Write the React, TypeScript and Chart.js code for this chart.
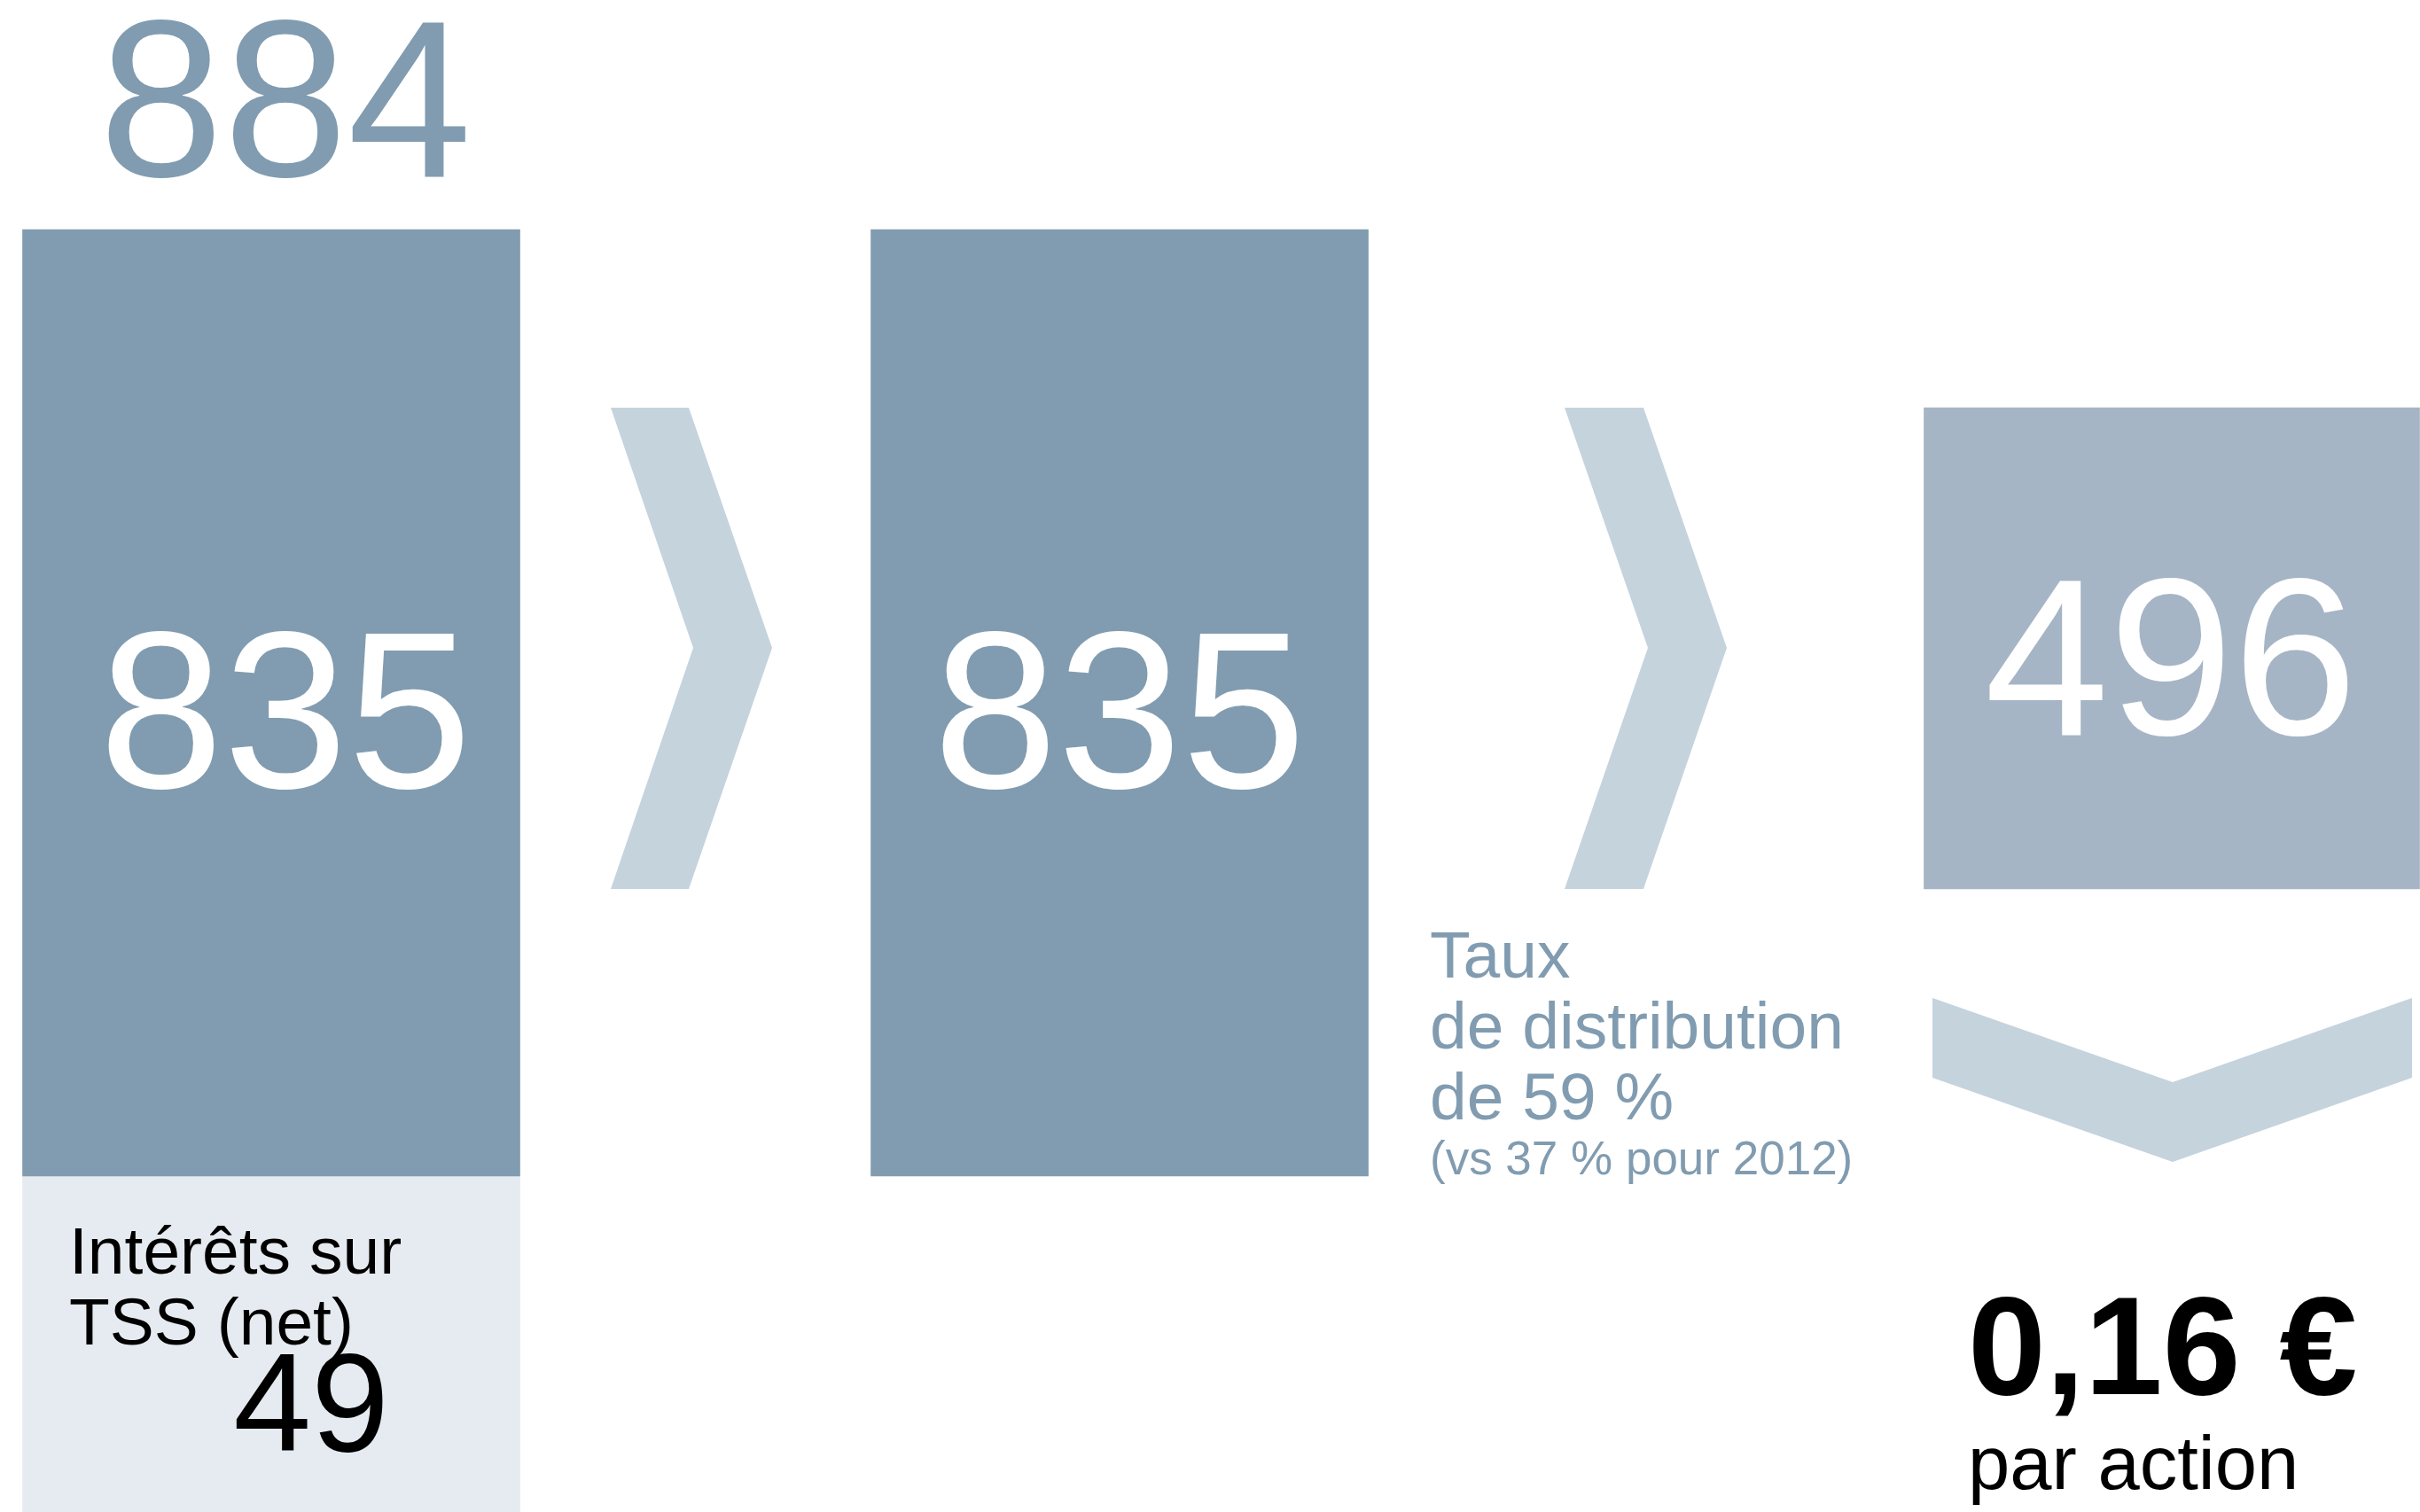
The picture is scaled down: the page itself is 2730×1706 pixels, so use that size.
import React, { useEffect, useRef } from 'react';
import { Chart, registerables } from 'chart.js';

Chart.register(...registerables);

// ---- Data (values shown on the infographic) ----
const stageNames = ['Résultat net', 'Résultat net après TSS', 'Dividende'];
const stageValues = ['835', '835', '496'];
const totalValue = '884';
const tssValue = '49';
const tssLabel = ['Intérêts sur', 'TSS (net)'];
const payoutLines = ['Taux', 'de distribution', 'de 59 %'];
const payoutNote = '(vs 37 % pour 2012)';
const perShare = '0,16 €';
const perShareLabel = 'par action';

// Bar spans on the hidden layout axis (abstract units, top = 0)
const stageCentres = [306, 1263, 2450];
const stageSpans: [number, number][] = [[259, 1327], [259, 1327], [460, 1003]];
const tssSpan: [number, number] = [1327, 1706];

// Chevron outlines on the same layout axes
const chevrons: [number, number][][] = [
  [[689, 460], [777, 460], [871, 731], [777, 1003], [689, 1003], [782, 731]],
  [[1765, 460], [1854, 460], [1948, 731], [1854, 1003], [1765, 1003], [1859, 731]],
  [[2180, 1126], [2451, 1221], [2721, 1126], [2721, 1216], [2451, 1311], [2180, 1216]],
];

const DARK = '#819cb0';
const MID = '#a5b5c5';
const CHEV = '#c5d3dd';
const LIGHT = '#e5ebf0';
const FONT = '"Liberation Sans", Arial, Helvetica, sans-serif';

type TextItem = { t: string; x: number; y: number; size: number; color: string; align: CanvasTextAlign; bold?: boolean };

const texts: TextItem[] = [
  { t: totalValue, x: 322, y: 199, size: 252, color: DARK, align: 'center' },
  { t: stageValues[0], x: 322, y: 889, size: 252, color: '#ffffff', align: 'center' },
  { t: stageValues[1], x: 1263, y: 889, size: 252, color: '#ffffff', align: 'center' },
  { t: stageValues[2], x: 2449, y: 829, size: 252, color: '#ffffff', align: 'center' },
  { t: tssLabel[0], x: 78, y: 1437, size: 75, color: '#000000', align: 'left' },
  { t: tssLabel[1], x: 78, y: 1517, size: 75, color: '#000000', align: 'left' },
  { t: tssValue, x: 351, y: 1637, size: 158, color: '#000000', align: 'center' },
  { t: payoutLines[0], x: 1613, y: 1103, size: 75, color: DARK, align: 'left' },
  { t: payoutLines[1], x: 1613, y: 1183, size: 75, color: DARK, align: 'left' },
  { t: payoutLines[2], x: 1613, y: 1263, size: 75, color: DARK, align: 'left' },
  { t: payoutNote, x: 1613, y: 1325, size: 53, color: DARK, align: 'left' },
  { t: perShare, x: 2220, y: 1573, size: 158, color: '#000000', align: 'left', bold: true },
  { t: perShareLabel, x: 2220, y: 1680, size: 85, color: '#000000', align: 'left' },
];

const shapesPlugin = {
  id: 'shapes',
  beforeDatasetsDraw(chart: any) {
    const { ctx, scales } = chart;
    const xs = scales.x, ys = scales.y;
    ctx.save();
    ctx.fillStyle = CHEV;
    chevrons.forEach((pts) => {
      ctx.beginPath();
      pts.forEach(([px, py], i) => {
        const X = xs.getPixelForValue(px), Y = ys.getPixelForValue(py);
        if (i === 0) ctx.moveTo(X, Y); else ctx.lineTo(X, Y);
      });
      ctx.closePath();
      ctx.fill();
    });
    ctx.restore();
  },
  afterDatasetsDraw(chart: any) {
    const { ctx, scales } = chart;
    const xs = scales.x, ys = scales.y;
    ctx.save();
    ctx.textBaseline = 'alphabetic';
    texts.forEach((it) => {
      ctx.font = `${it.bold ? 'bold ' : ''}${it.size}px ${FONT}`;
      ctx.fillStyle = it.color;
      ctx.textAlign = it.align;
      ctx.fillText(it.t, xs.getPixelForValue(it.x), ys.getPixelForValue(it.y));
    });
    ctx.restore();
  },
};

export default function App() {
  const ref = useRef<HTMLCanvasElement | null>(null);
  useEffect(() => {
    if (!ref.current) return;
    const chart = new Chart(ref.current, {
      type: 'bar',
      data: {
        datasets: [
          {
            label: stageNames[0] + ' / ' + stageNames[1],
            data: [0, 1].map((i) => ({ x: stageCentres[i], y: stageSpans[i] })) as any,
            backgroundColor: DARK,
            barThickness: 561,
            grouped: false,
          } as any,
          {
            label: tssLabel.join(' '),
            data: [{ x: stageCentres[0], y: tssSpan }] as any,
            backgroundColor: LIGHT,
            barThickness: 561,
            grouped: false,
          } as any,
          {
            label: stageNames[2],
            data: [{ x: stageCentres[2], y: stageSpans[2] }] as any,
            backgroundColor: MID,
            barThickness: 559,
            grouped: false,
          } as any,
        ],
      },
      options: {
        animation: false,
        responsive: false,
        maintainAspectRatio: false,
        layout: { padding: 0 },
        plugins: { legend: { display: false }, tooltip: { enabled: false } },
        scales: {
          x: { type: 'linear', min: 0, max: 2730, offset: false, display: false, grid: { offset: false } },
          y: { type: 'linear', min: 0, max: 1706, reverse: true, display: false },
        },
      },
      plugins: [shapesPlugin],
    });
    return () => chart.destroy();
  }, []);
  return (
    <div style={{ position: 'fixed', left: 0, top: 0, width: 2730, height: 1706, background: '#ffffff' }}>
      <canvas ref={ref} width={2730} height={1706} style={{ width: 2730, height: 1706, display: 'block' }} />
    </div>
  );
}
